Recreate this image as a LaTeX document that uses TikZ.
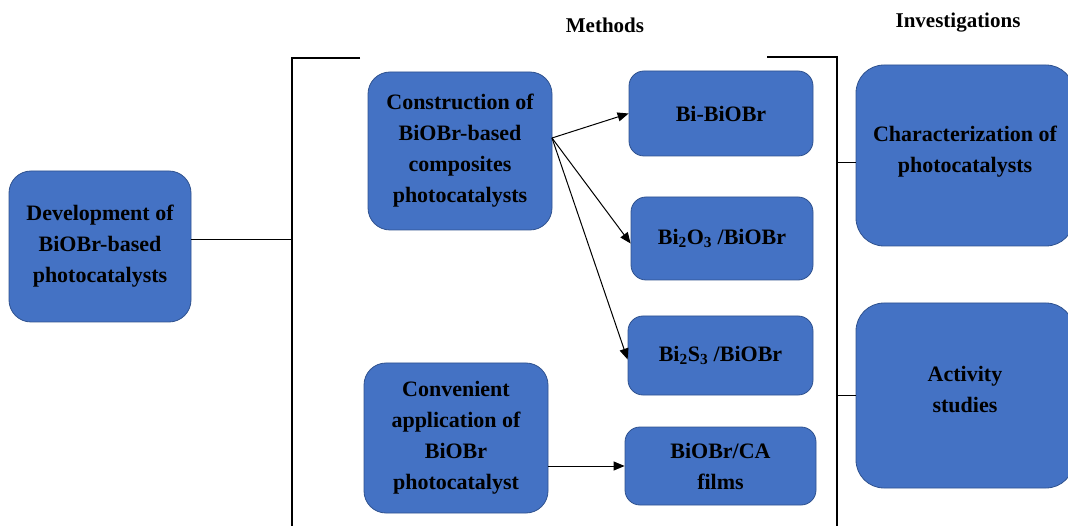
\documentclass[tikz,border=0pt]{standalone}
\usepackage{fontspec}
\setmainfont{Liberation Serif}
\usetikzlibrary{arrows.meta}
\definecolor{boxblue}{HTML}{4472C4}
\definecolor{boxedge}{HTML}{2F528F}

\begin{document}
\begin{tikzpicture}[x=1pt, y=-1pt,
  box/.style={draw=boxedge, line width=0.8pt, fill=boxblue, rounded corners=15pt,
    align=center, inner sep=0pt, font=\fontsize{22}{31}\selectfont\bfseries},
  bigbox/.style={box, rounded corners=22pt},
  head/.style={font=\fontsize{21}{25}\selectfont\bfseries},
  arr/.style={-{Triangle[length=11pt,width=9pt]}, line width=1pt},
  brk/.style={line width=1.8pt}]
  \clip (0,0) rectangle (1068,526);
  % headings
  \node[head] (methods) at (605,25) {Methods};
  \node[head] (invest) at (958,23) {Investigations};
  % boxes
  \node[bigbox, minimum width=182pt, minimum height=151pt] (dev) at (100,246.5)
    {Development of\\BiOBr-based\\photocatalysts};
  \node[bigbox, minimum width=184pt, minimum height=158pt] (cons) at (460,151)
    {Construction of\\BiOBr-based\\composites\\photocatalysts};
  \node[bigbox, minimum width=184pt, minimum height=150pt] (conv) at (456,438)
    {Convenient\\application of\\BiOBr\\photocatalyst};
  \node[box, minimum width=184pt, minimum height=85pt] (bi) at (721,113.5) {Bi-BiOBr};
  \node[box, minimum width=182pt, minimum height=83pt] (bio) at (722,238.5)
    {Bi\textsubscript{2}O\textsubscript{3} /BiOBr};
  \node[box, minimum width=185pt, minimum height=79pt] (bis) at (720.5,355.5)
    {Bi\textsubscript{2}S\textsubscript{3} /BiOBr};
  \node[box, minimum width=191pt, minimum height=78pt] (ca) at (720.5,466)
    {BiOBr/CA\\films};
  \node[bigbox, rounded corners=28pt, minimum width=218pt, minimum height=181pt] (char) at (965,155.5)
    {Characterization of\\photocatalysts\\[-19pt]};
  \node[bigbox, rounded corners=28pt, minimum width=218pt, minimum height=185pt] (act) at (965,395.5)
    {Activity\\studies\\[-19pt]};
  % brackets
  \coordinate (ltop) at (292,58);
  \coordinate (rtop) at (837,57);
  \draw[brk] (360,58) -- (ltop) -- (292,530);
  \draw[brk] (767,57) -- (rtop) -- (837,530);
  \draw[brk] (dev.east) ++(0,-7) -- ++(101,0);
  \draw[brk] (char.west -| rtop) ++(0,7) -- ++(19,0);
  \draw[brk] (act.west -| rtop) -- (act.west);
  % arrows
  \coordinate (fan) at (552,138);
  \draw[arr] (fan) -- (bi.west);
  \draw[arr] (fan) -- ([yshift=-5pt]bio.west);
  \draw[arr] (fan) -- ([yshift=-4pt]bis.west);
  \draw[arr] (conv.east |- ca.west) -- (ca.west);
\end{tikzpicture}
\end{document}
